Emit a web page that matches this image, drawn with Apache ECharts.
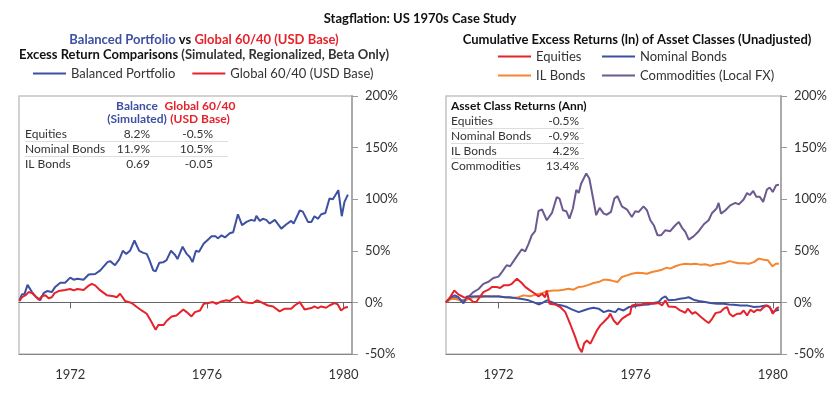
<!DOCTYPE html>
<html><head><meta charset="utf-8">
<script src="https://cdn.jsdelivr.net/npm/echarts@6/dist/echarts.min.js"></script>
<style>html,body{margin:0;padding:0;background:#fff}#c{width:840px;height:393px}</style>
</head><body><div id="c"></div>
<script>
const yearTicks = [1972, 1976, 1980];

const balanced = [[1970.51,2],[1970.59,8],[1970.66,8],[1970.75,17],[1970.88,10],[1970.98,6],[1971.12,2],[1971.22,9],[1971.32,11],[1971.46,10],[1971.56,15],[1971.71,19],[1971.85,19],[1972.00,24],[1972.10,22],[1972.21,23],[1972.39,22],[1972.54,27],[1972.73,27.5],[1972.88,31],[1973.09,39],[1973.17,40],[1973.31,36],[1973.44,42],[1973.54,50],[1973.64,47],[1973.75,50],[1973.88,60],[1974.02,50],[1974.14,48],[1974.24,47],[1974.32,41],[1974.43,31],[1974.50,30],[1974.61,38.5],[1974.73,39],[1974.82,41],[1974.95,50],[1975.07,46],[1975.14,42],[1975.29,54],[1975.41,47],[1975.50,44],[1975.58,39],[1975.68,50],[1975.77,49],[1975.91,57],[1976.04,61],[1976.14,64],[1976.26,64],[1976.32,62],[1976.43,65],[1976.53,63],[1976.67,67],[1976.77,68],[1976.91,85.4],[1977.03,74.8],[1977.16,78],[1977.30,80],[1977.40,79],[1977.45,83.8],[1977.55,79],[1977.64,81],[1977.74,80],[1977.84,76.4],[1977.99,80],[1978.18,71.5],[1978.33,75.7],[1978.47,79],[1978.54,76.4],[1978.72,89],[1978.81,88],[1978.96,78],[1979.06,78],[1979.15,83.5],[1979.25,81],[1979.35,85.4],[1979.47,86.7],[1979.59,100.7],[1979.69,100],[1979.85,108.7],[1979.95,83.5],[1980.03,97.4],[1980.13,104.5]];

const global6040 = [[1970.51,1.3],[1970.59,5],[1970.69,7],[1970.78,10],[1970.88,9],[1970.98,6],[1971.08,2.6],[1971.17,6],[1971.27,7],[1971.37,4],[1971.46,5],[1971.54,9],[1971.66,11],[1971.85,12],[1972.00,13],[1972.10,11.6],[1972.21,13],[1972.39,12],[1972.51,15.5],[1972.63,18],[1972.73,16.5],[1972.88,11.6],[1973.07,7],[1973.27,6],[1973.36,5],[1973.46,8.4],[1973.51,8.4],[1973.61,1.3],[1973.80,-0.6],[1973.95,-4.5],[1974.09,-7.8],[1974.24,-11],[1974.38,-19],[1974.50,-26.5],[1974.58,-22],[1974.63,-20.7],[1974.73,-22],[1974.82,-18],[1974.97,-13.6],[1975.11,-12.6],[1975.31,-6.8],[1975.41,-9.4],[1975.55,-13.6],[1975.65,-9.4],[1975.80,-7.8],[1975.91,-1.3],[1976.04,-0.6],[1976.18,0.3],[1976.28,-1.3],[1976.43,1],[1976.57,2],[1976.67,1.3],[1976.77,3.6],[1976.91,6],[1977.06,0.3],[1977.21,-0.3],[1977.35,-0.6],[1977.47,2],[1977.64,-0.6],[1977.79,-3],[1977.94,-3.9],[1978.13,-8.7],[1978.28,-6.1],[1978.47,-6.1],[1978.57,-3],[1978.72,0.3],[1978.86,-6.8],[1979.06,-5.5],[1979.15,-3.9],[1979.25,-5.5],[1979.35,-3.9],[1979.49,-5.2],[1979.59,-3],[1979.74,-0.6],[1979.83,-1.9],[1979.93,-7.8],[1980.03,-5.2],[1980.13,-4.5]];

const equities = [[1970.47,0],[1970.59,5],[1970.71,11.6],[1970.83,7.8],[1970.98,5],[1971.09,4.5],[1971.19,2.6],[1971.27,0.3],[1971.35,0.3],[1971.45,5],[1971.56,10],[1971.71,12.3],[1971.81,15],[1971.95,15],[1972.05,14],[1972.15,16.5],[1972.29,16.5],[1972.39,18],[1972.54,23],[1972.68,18.8],[1972.78,15],[1972.92,11.6],[1973.07,8.4],[1973.17,5.8],[1973.27,8.4],[1973.36,5],[1973.41,11.6],[1973.49,-1.3],[1973.65,-2],[1973.80,-4.5],[1973.95,-9.4],[1974.09,-20.7],[1974.24,-33.7],[1974.34,-43.4],[1974.43,-48.2],[1974.50,-39.5],[1974.58,-36.9],[1974.68,-40],[1974.75,-35.3],[1974.87,-27.2],[1974.97,-22.3],[1975.07,-19],[1975.21,-14.2],[1975.26,-11],[1975.36,-17.5],[1975.47,-21.4],[1975.60,-15.9],[1975.75,-12.6],[1975.84,-11],[1975.89,-2.9],[1976.02,-2],[1976.14,-2],[1976.28,-1.3],[1976.38,-0.6],[1976.53,-1.3],[1976.67,-0.6],[1976.77,-2.9],[1976.87,2],[1976.96,-3.9],[1977.16,-4.5],[1977.30,-7.8],[1977.45,-10],[1977.52,-6.1],[1977.65,-11],[1977.74,-9.4],[1977.89,-13.6],[1978.03,-17.5],[1978.13,-20],[1978.23,-15.9],[1978.33,-10.4],[1978.47,-9.4],[1978.57,-6.1],[1978.67,-4.5],[1978.74,-11],[1978.84,-13.6],[1978.96,-11],[1979.06,-11],[1979.15,-7.8],[1979.25,-12.6],[1979.35,-7.1],[1979.45,-9.4],[1979.54,-7.1],[1979.64,-7.8],[1979.74,-4.5],[1979.83,-2.9],[1979.91,-4.5],[1980.00,-11],[1980.10,-6.1],[1980.18,-4.5]];

const nominalBonds = [[1970.47,0.3],[1970.64,5.8],[1970.73,6.8],[1970.83,5],[1970.98,-1],[1971.08,5.8],[1971.22,5.8],[1971.42,6],[1971.61,6],[1971.81,5.8],[1972.00,5.8],[1972.19,5],[1972.34,4.9],[1972.54,3.9],[1972.73,3],[1972.88,2],[1973.02,0.3],[1973.17,-2],[1973.27,-0.6],[1973.41,2],[1973.56,0.3],[1973.70,-2],[1973.85,-2.9],[1974.00,-4.5],[1974.14,-6.8],[1974.34,-9.4],[1974.48,-7.8],[1974.63,-6.1],[1974.77,-5.2],[1974.92,-6.1],[1975.07,-9.4],[1975.21,-7.8],[1975.26,-7.1],[1975.41,-9.4],[1975.50,-6.1],[1975.65,-7.8],[1975.80,-4.5],[1975.94,-3.9],[1976.09,-2.9],[1976.23,-2.3],[1976.38,-2],[1976.53,-0.6],[1976.67,0.3],[1976.77,4.2],[1976.87,5.8],[1976.96,2],[1977.16,2.6],[1977.30,3.6],[1977.45,4.2],[1977.55,5],[1977.69,2.6],[1977.84,1.3],[1978.03,0.3],[1978.18,-0.6],[1978.38,-1.3],[1978.57,-1.3],[1978.72,-2],[1978.86,-2.3],[1979.06,-2.9],[1979.25,-2.9],[1979.45,-4.5],[1979.64,-3.9],[1979.79,-2.9],[1979.91,-4.5],[1980.00,-9.4],[1980.10,-7.8],[1980.18,-7.1]];

const ilBonds = [[1970.47,0.3],[1970.59,3],[1970.73,3.6],[1970.88,2],[1970.98,0.3],[1971.12,3.6],[1971.27,5],[1971.46,5],[1971.66,5.8],[1971.85,6],[1972.00,6],[1972.19,5],[1972.39,4.2],[1972.58,5],[1972.73,6.8],[1972.92,6],[1973.12,7.8],[1973.27,9],[1973.41,10.7],[1973.61,11.6],[1973.75,11.6],[1973.90,12.3],[1974.04,13.3],[1974.19,12.3],[1974.34,15],[1974.48,15.5],[1974.63,17],[1974.77,18.8],[1974.92,19.7],[1975.07,22],[1975.16,22],[1975.26,21.4],[1975.38,20.4],[1975.47,19.7],[1975.60,24.6],[1975.75,26.2],[1975.89,27.8],[1976.04,28.8],[1976.18,28.5],[1976.33,27.8],[1976.48,29.4],[1976.62,30.4],[1976.77,31.7],[1976.91,33.7],[1977.01,32.7],[1977.16,35],[1977.30,36.6],[1977.45,37.5],[1977.60,36.9],[1977.74,37.5],[1977.89,36.6],[1978.03,36.9],[1978.18,35.6],[1978.33,36.9],[1978.47,37.5],[1978.62,38.5],[1978.74,40],[1978.86,39],[1979.01,38],[1979.15,38],[1979.30,37.5],[1979.45,39],[1979.59,42.4],[1979.74,41.4],[1979.86,40.8],[1979.99,35],[1980.09,37.5],[1980.18,37.5]];

const commodities = [[1970.47,0],[1970.59,3.6],[1970.73,5],[1970.88,2],[1971.03,2],[1971.17,6.8],[1971.27,10],[1971.42,13],[1971.56,18],[1971.71,20],[1971.85,23.6],[1972.00,25],[1972.10,29.4],[1972.24,36],[1972.34,35],[1972.49,42.4],[1972.68,51.5],[1972.78,49.5],[1972.88,57],[1972.97,65],[1973.07,69],[1973.17,88.7],[1973.27,90],[1973.41,79.6],[1973.56,86.7],[1973.70,102],[1973.78,100.6],[1973.88,89.3],[1973.98,88.3],[1974.07,81.2],[1974.17,91],[1974.27,109],[1974.34,106],[1974.41,115],[1974.56,125],[1974.65,120],[1974.77,99],[1974.85,84.5],[1974.95,91.6],[1975.07,86],[1975.16,85],[1975.28,87.7],[1975.38,100.6],[1975.47,103],[1975.60,93],[1975.75,90],[1975.89,82.8],[1975.99,88.3],[1976.09,87.7],[1976.23,93],[1976.33,89.3],[1976.43,79.6],[1976.53,74.8],[1976.64,65],[1976.74,65],[1976.87,70],[1977.01,69],[1977.13,73.8],[1977.26,78],[1977.35,72.5],[1977.45,68.3],[1977.55,60.8],[1977.69,64],[1977.84,69],[1977.99,75.7],[1978.13,79.6],[1978.23,86.7],[1978.36,91],[1978.42,96.4],[1978.49,86],[1978.62,89.3],[1978.76,94],[1978.91,96.4],[1979.01,95],[1979.15,99.7],[1979.25,106],[1979.33,104],[1979.43,108],[1979.52,102.4],[1979.62,102.4],[1979.72,97.4],[1979.83,109.4],[1979.91,111.3],[1980.00,107],[1980.10,113.6],[1980.18,114]];

// table texts
const leftRowLabels = ['Equities', 'Nominal Bonds', 'IL Bonds'];
const leftBalanceVals = ['8.2%', '11.9%', '0.69'];
const leftGlobalVals = ['-0.5%', '10.5%', '-0.05'];
const rightRowLabels = ['Equities', 'Nominal Bonds', 'IL Bonds', 'Commodities'];
const rightVals = ['-0.5%', '-0.9%', '4.2%', '13.4%'];

const C = { blue: '#3d50a2', red: '#e6222b', orange: '#f5852f', purple: '#6b5a90' };
const FF = 'Lato';
const TXT = '#333';

const chart = echarts.init(document.getElementById('c'), null, { renderer: 'canvas' });

function xZero(grid, min, max) {
  return { type: 'value', gridIndex: grid, min: min, max: max, position: 'bottom',
    axisLine: { show: true, onZero: true, lineStyle: { color: '#666', width: 1 } },
    axisTick: { show: true, inside: false, length: 6, customValues: yearTicks, lineStyle: { color: '#666', width: 1 } },
    axisLabel: { show: false }, splitLine: { show: false } };
}
function xBottom(grid, min, max) {
  return { type: 'value', gridIndex: grid, min: min, max: max, position: 'bottom',
    axisLine: { show: true, onZero: false, lineStyle: { color: '#888', width: 1 } },
    axisTick: { show: false }, splitLine: { show: false },
    axisLabel: { customValues: yearTicks, fontSize: 13, color: TXT, fontFamily: FF, margin: 14,
      formatter: function (v) { return String(v); } } };
}
function yAx(grid) {
  return { type: 'value', gridIndex: grid, min: -50, max: 200, interval: 50, position: 'right',
    axisLine: { show: true, lineStyle: { color: '#aaa', width: 2 } },
    axisTick: { show: true, length: 6, lineStyle: { color: '#999' } },
    splitLine: { show: false },
    axisLabel: { formatter: '{value}%', fontSize: 13, color: TXT, fontFamily: FF, margin: 13 } };
}
function line(name, data, color, xi, yi) {
  return { name: name, type: 'line', data: data, xAxisIndex: xi, yAxisIndex: yi,
    symbol: 'none', showSymbol: false, color: color,
    lineStyle: { color: color, width: 2 }, animation: false };
}

const graphics = [];
function txt(t, x, y, opt) {
  graphics.push({ type: 'text', silent: true, style: Object.assign({ text: t, x: x, y: y, fill: TXT,
    font: '12px ' + FF, align: 'left', verticalAlign: 'middle' }, opt || {}) });
}
function hline(x1, x2, y) {
  graphics.push({ type: 'line', silent: true, shape: { x1: x1, y1: y, x2: x2, y2: y }, style: { stroke: '#ddd', lineWidth: 1 } });
}
// left table
txt('Balance', 137, 106, { fill: C.blue, font: 'bold 12px ' + FF, align: 'center' });
txt('(Simulated)', 137, 119, { fill: C.blue, font: 'bold 12px ' + FF, align: 'center' });
txt('Global 60/40', 200, 106, { fill: C.red, font: 'bold 12px ' + FF, align: 'center' });
txt('(USD Base)', 200, 119, { fill: C.red, font: 'bold 12px ' + FF, align: 'center' });
leftRowLabels.forEach((l, i) => {
  const y = 134 + i * 15;
  txt(l, 25, y);
  txt(leftBalanceVals[i], 150, y, { align: 'right' });
  txt(leftGlobalVals[i], 213, y, { align: 'right' });
  if (i < leftRowLabels.length - 1) hline(25, 228, y + 7.5);
});
// right table
txt('Asset Class Returns (Ann)', 451, 106, { fill: '#111', font: 'bold 12px ' + FF });
rightRowLabels.forEach((l, i) => {
  const y = 121 + i * 15;
  txt(l, 451, y);
  txt(rightVals[i], 579, y, { align: 'right' });
  if (i < rightRowLabels.length - 1) hline(451, 584, y + 7.5);
});

const option = {
  backgroundColor: '#fff',
  animation: false,
  textStyle: { fontFamily: FF },
  title: [
    { text: 'Stagflation: US 1970s Case Study', left: 420, textAlign: 'center', top: 12, padding: 0,
      textStyle: { fontSize: 13, fontWeight: 'bold', color: '#111', fontFamily: FF } },
    { text: '{b|Balanced Portfolio} {k|vs} {r|Global 60/40 (USD Base)}', left: 204, textAlign: 'center', top: 33, padding: 0,
      textStyle: { fontSize: 13, fontFamily: FF, rich: {
        b: { color: C.blue, fontWeight: 'bold', fontSize: 13, fontFamily: FF },
        k: { color: '#111', fontWeight: 'bold', fontSize: 13, fontFamily: FF },
        r: { color: C.red, fontWeight: 'bold', fontSize: 13, fontFamily: FF } } } },
    { text: '{k|Excess Return Comparisons} {n|(Simulated, Regionalized, Beta Only)}', left: 204, textAlign: 'center', top: 48, padding: 0,
      textStyle: { fontSize: 13, fontFamily: FF, rich: {
        k: { color: '#111', fontWeight: 'bold', fontSize: 13, fontFamily: FF },
        n: { color: TXT, fontSize: 13, fontFamily: FF } } } },
    { text: 'Cumulative Excess Returns (ln) of Asset Classes (Unadjusted)', left: 637, textAlign: 'center', top: 33, padding: 0,
      textStyle: { fontSize: 13, fontWeight: 'bold', color: '#111', fontFamily: FF } }
  ],
  legend: [
    { data: ['Balanced Portfolio', 'Global 60/40 (USD Base)'], left: 33, top: 67, padding: 0, icon: 'rect',
      itemWidth: 33, itemHeight: 2, itemGap: 17, textStyle: { fontSize: 13, color: TXT, fontFamily: FF } },
    { data: ['Equities', 'IL Bonds'], orient: 'vertical', left: 498, top: 49, padding: 0, icon: 'rect',
      itemWidth: 33, itemHeight: 2, itemGap: 4, textStyle: { fontSize: 13, color: TXT, fontFamily: FF, lineHeight: 15 } },
    { data: ['Nominal Bonds', 'Commodities (Local FX)'], orient: 'vertical', left: 602, top: 49, padding: 0, icon: 'rect',
      itemWidth: 33, itemHeight: 2, itemGap: 4, textStyle: { fontSize: 13, color: TXT, fontFamily: FF, lineHeight: 15 } }
  ],
  grid: [
    { left: 19, top: 96, width: 333, height: 258, show: true, borderColor: '#c4c4c4', borderWidth: 1.5, outerBoundsMode: 'none' },
    { left: 446, top: 96, width: 335, height: 258, show: true, borderColor: '#c4c4c4', borderWidth: 1.5, outerBoundsMode: 'none' }
  ],
  xAxis: [xZero(0, 1970.5, 1980.25), xBottom(0, 1970.5, 1980.25), xZero(1, 1970.47, 1980.24), xBottom(1, 1970.47, 1980.24)],
  yAxis: [yAx(0), yAx(1)],
  series: [
    line('Balanced Portfolio', balanced, C.blue, 0, 0),
    line('Global 60/40 (USD Base)', global6040, C.red, 0, 0),
    line('Commodities (Local FX)', commodities, C.purple, 2, 1),
    line('IL Bonds', ilBonds, C.orange, 2, 1),
    line('Nominal Bonds', nominalBonds, C.blue, 2, 1),
    line('Equities', equities, C.red, 2, 1)
  ],
  graphic: graphics
};
chart.setOption(option);
</script></body></html>
